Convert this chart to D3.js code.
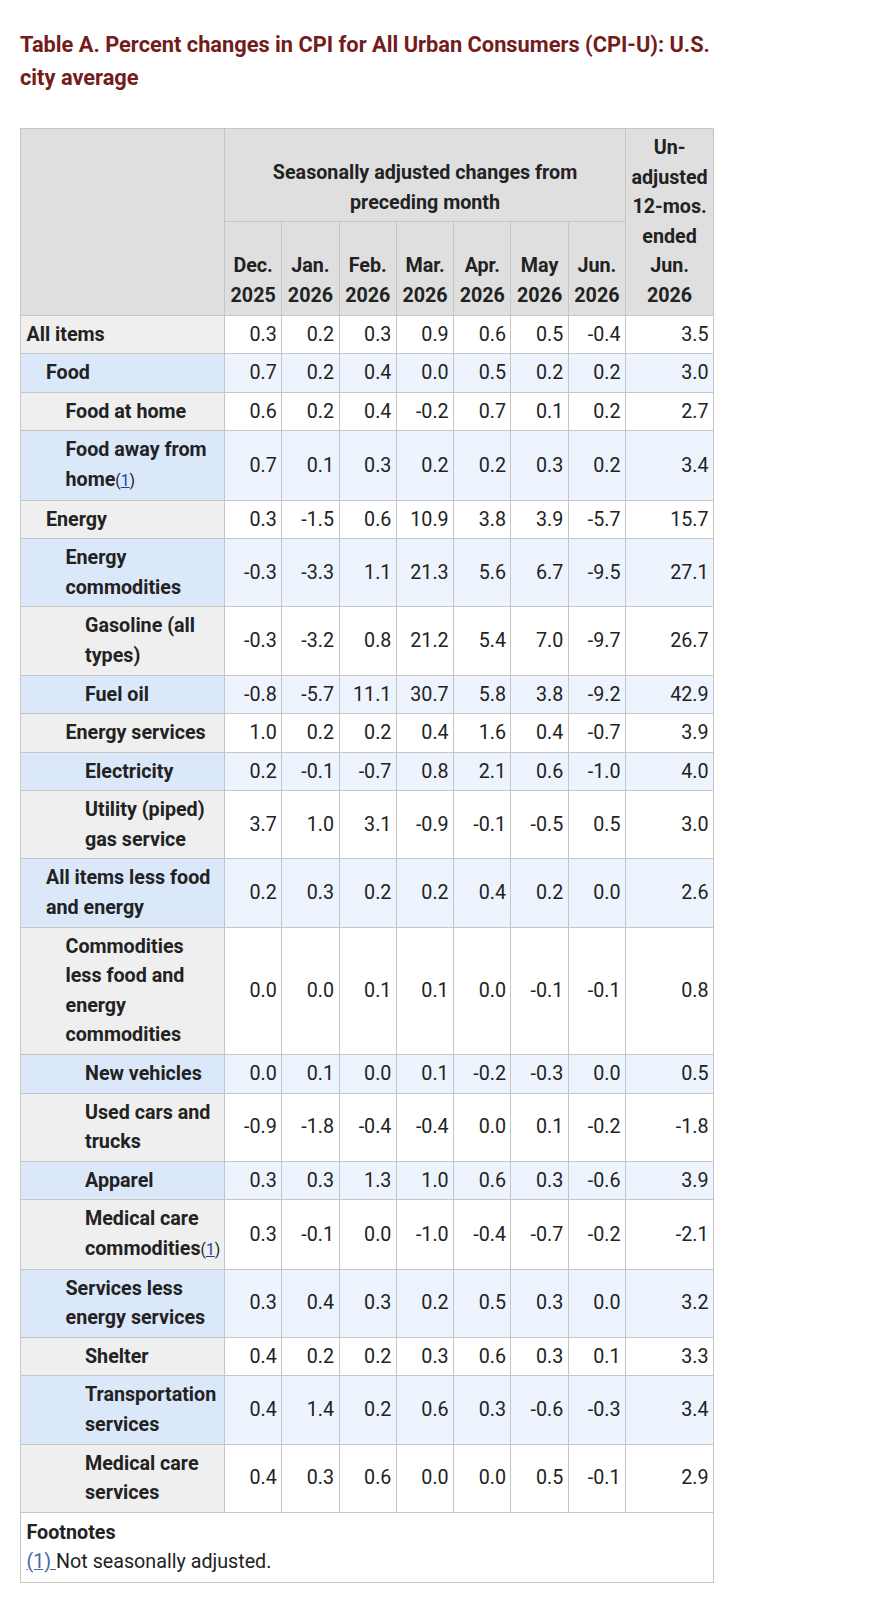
<!DOCTYPE html>
<html>
<head>
<meta charset="utf-8">
<script src="https://cdn.jsdelivr.net/npm/d3@7"></script>
<style>
body{margin:0;background:#fff;font-family:Roboto,"Noto Sans",sans-serif;color:#222;}
#wrap{position:absolute;left:20px;top:0;width:693px;}
#title{margin:29px 0 0 0;width:720px;font-size:21.8px;line-height:32.5px;font-weight:700;color:#741b1b;}
table{border-collapse:collapse;table-layout:fixed;width:693px;margin-top:34px;font-size:19.7px;line-height:29.6px;}
th,td{border:1px solid #c6c6c6;padding:4px 4.5px;}
thead th{background:#dfdfdf;font-weight:700;text-align:center;vertical-align:bottom;}
tbody th{font-weight:700;text-align:left;vertical-align:middle;}
tbody td{text-align:right;vertical-align:middle;font-weight:400;}
tbody tr.odd th{background:#efefef;}
tbody tr.even th{background:#dbe8fa;}
tbody tr.odd td{background:#fff;}
tbody tr.even td{background:#eef4fd;}
.tail{white-space:nowrap;}
.fn{font-size:0.8em;font-weight:400;}
.fn a{color:#1a3ea8;text-decoration:underline;}
tfoot td{background:#fff;text-align:left;padding:5px 5.5px;}
tfoot .fhead{font-weight:700;}
tfoot a{color:#4a67a8;text-decoration:underline;}
</style>
</head>
<body>
<div id="wrap">
<div id="title"></div>
<table id="CpiTable"></table>
</div>
<script>
var TitleText = "Table A. Percent changes in CPI for All Urban Consumers (CPI-U): U.S. city average";
var GroupHeader = ["Seasonally adjusted changes from", "preceding month"];
var YearHeader = ["Un-", "adjusted", "12-mos.", "ended", "Jun.", "2026"];
var Months = ["Dec.", "Jan.", "Feb.", "Mar.", "Apr.", "May", "Jun."];
var Years = ["2025", "2026", "2026", "2026", "2026", "2026", "2026"];

var ItemNames = ["All items", "Food", "Food at home", "Food away from home", "Energy",
	"Energy commodities", "Gasoline (all types)", "Fuel oil", "Energy services", "Electricity",
	"Utility (piped) gas service", "All items less food and energy",
	"Commodities less food and energy commodities", "New vehicles", "Used cars and trucks",
	"Apparel", "Medical care commodities", "Services less energy services", "Shelter",
	"Transportation services", "Medical care services"];
var ItemLevels = [0, 1, 2, 2, 1, 2, 3, 3, 2, 3, 3, 1, 2, 3, 3, 3, 3, 2, 3, 3, 3];
var ItemNotes = [0, 0, 0, 1, 0, 0, 0, 0, 0, 0, 0, 0, 0, 0, 0, 0, 1, 0, 0, 0, 0];

var Dec2025 = [0.3, 0.7, 0.6, 0.7, 0.3, -0.3, -0.3, -0.8, 1.0, 0.2, 3.7, 0.2, 0.0, 0.0, -0.9, 0.3, 0.3, 0.3, 0.4, 0.4, 0.4];
var Jan2026 = [0.2, 0.2, 0.2, 0.1, -1.5, -3.3, -3.2, -5.7, 0.2, -0.1, 1.0, 0.3, 0.0, 0.1, -1.8, 0.3, -0.1, 0.4, 0.2, 1.4, 0.3];
var Feb2026 = [0.3, 0.4, 0.4, 0.3, 0.6, 1.1, 0.8, 11.1, 0.2, -0.7, 3.1, 0.2, 0.1, 0.0, -0.4, 1.3, 0.0, 0.3, 0.2, 0.2, 0.6];
var Mar2026 = [0.9, 0.0, -0.2, 0.2, 10.9, 21.3, 21.2, 30.7, 0.4, 0.8, -0.9, 0.2, 0.1, 0.1, -0.4, 1.0, -1.0, 0.2, 0.3, 0.6, 0.0];
var Apr2026 = [0.6, 0.5, 0.7, 0.2, 3.8, 5.6, 5.4, 5.8, 1.6, 2.1, -0.1, 0.4, 0.0, -0.2, 0.0, 0.6, -0.4, 0.5, 0.6, 0.3, 0.0];
var May2026 = [0.5, 0.2, 0.1, 0.3, 3.9, 6.7, 7.0, 3.8, 0.4, 0.6, -0.5, 0.2, -0.1, -0.3, 0.1, 0.3, -0.7, 0.3, 0.3, -0.6, 0.5];
var Jun2026 = [-0.4, 0.2, 0.2, 0.2, -5.7, -9.5, -9.7, -9.2, -0.7, -1.0, 0.5, 0.0, -0.1, 0.0, -0.2, -0.6, -0.2, 0.0, 0.1, -0.3, -0.1];
var YearEnded = [3.5, 3.0, 2.7, 3.4, 15.7, 27.1, 26.7, 42.9, 3.9, 4.0, 3.0, 2.6, 0.8, 0.5, -1.8, 3.9, -2.1, 3.2, 3.3, 3.4, 2.9];

var FootHead = "Footnotes";
var FootMark = "(1)";
var FootText = "Not seasonally adjusted.";

var SeriesValues = [Dec2025, Jan2026, Feb2026, Mar2026, Apr2026, May2026, Jun2026, YearEnded];

var Fmt = d3.formatLocale({decimal: ".", thousands: ",", grouping: [3], currency: ["$", ""], minus: "-"}).format(".1f");

function BuildTable()
{
	d3.select("#title").text(TitleText);

	var Table = d3.select("#CpiTable");
	var Cols = Table.append("colgroup");
	Cols.append("col").style("width", "204px");
	Months.forEach(function(){ Cols.append("col").style("width", "57.3px"); });
	Cols.append("col").style("width", "88px");

	var Head = Table.append("thead");
	var Row1 = Head.append("tr");
	Row1.append("th").attr("rowspan", 2);
	Row1.append("th").attr("colspan", Months.length).html(GroupHeader.join("<br>"));
	Row1.append("th").attr("rowspan", 2).html(YearHeader.join("<br>"));

	Head.append("tr")
		.selectAll("th")
		.data(Months)
		.join("th")
		.html(function(d, i)
		{
			return d + "<br>" + Years[i];
		});

	var Rows = ItemNames.map(function(d, i)
	{
		return {
			name: d,
			level: ItemLevels[i],
			note: ItemNotes[i],
			values: SeriesValues.map(function(s){ return s[i]; })
		};
	});

	var BodyRows = Table.append("tbody")
		.selectAll("tr")
		.data(Rows)
		.join("tr")
		.attr("class", function(d, i){ return i % 2 == 0 ? "odd" : "even"; });

	var Labels = BodyRows.append("th")
		.style("padding-left", function(d){ return (5.5 + d.level * 19.5) + "px"; });

	// plain labels
	Labels.filter(function(d){ return !d.note; })
		.text(function(d){ return d.name; });

	// labels with a footnote: keep the last word and the mark together
	var Noted = Labels.filter(function(d){ return d.note; });
	Noted.append("span")
		.text(function(d){ return d.name.slice(0, d.name.lastIndexOf(" ") + 1); });
	var Tail = Noted.append("span").attr("class", "tail");
	Tail.append("span")
		.text(function(d){ return d.name.slice(d.name.lastIndexOf(" ") + 1); });
	var Mark = Tail.append("span").attr("class", "fn");
	Mark.append("span").text("(");
	Mark.append("a").text("1");
	Mark.append("span").text(")");

	BodyRows.selectAll("td")
		.data(function(d){ return d.values; })
		.join("td")
		.text(function(d){ return Fmt(d); });

	var Foot = Table.append("tfoot").append("tr").append("td")
		.attr("colspan", Months.length + 2);
	Foot.append("div").attr("class", "fhead").text(FootHead);
	var FootLine = Foot.append("div");
	FootLine.append("a").text(FootMark + " ");
	FootLine.append("span").text(FootText);
}

BuildTable();
</script>
</body>
</html>
